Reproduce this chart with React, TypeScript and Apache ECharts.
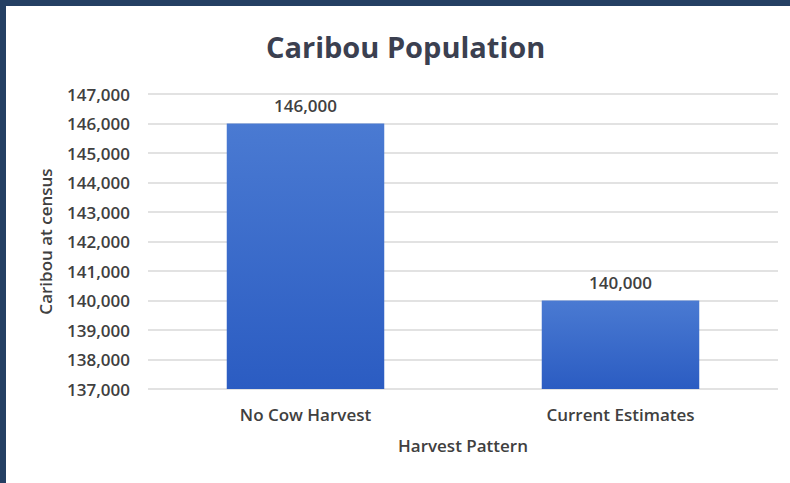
import React, { useEffect, useRef } from "react";
import * as echarts from "echarts";

const categories: string[] = ["No Cow Harvest", "Current Estimates"];
const population: number[] = [146000, 140000];
const titleText = "Caribou Population";
const yAxisName = "Caribou at census";
const xAxisName = "Harvest Pattern";

const FONT = "'Open Sans', sans-serif";
const fmt = (v: number) => v.toLocaleString("en-US");

export default function App() {
  const ref = useRef<HTMLDivElement>(null);
  useEffect(() => {
    if (!ref.current) return;
    const chart = echarts.init(ref.current, undefined, { renderer: "svg" });
    chart.setOption({
      animation: false,
      backgroundColor: "#ffffff",
      textStyle: { fontFamily: FONT },
      title: {
        text: titleText,
        left: 261,
        top: 27,
        textStyle: { fontFamily: FONT, fontSize: 29, fontWeight: "bold", color: "#3b4050" },
      },
      graphic: [
        { type: "rect", shape: { x: 0, y: 0, width: 790, height: 6 }, style: { fill: "#243f63" } },
        { type: "rect", shape: { x: 0, y: 0, width: 6, height: 483 }, style: { fill: "#243f63" } },
      ],
      grid: { left: 148, right: 12, top: 94, bottom: 94 },
      xAxis: {
        type: "category",
        data: categories,
        axisLine: { show: false },
        axisTick: { show: false },
        axisLabel: { margin: 17, fontFamily: FONT, fontSize: 17, fontWeight: 600, color: "#404040" },
        name: xAxisName,
        nameLocation: "middle",
        nameGap: 48,
        nameTextStyle: { fontFamily: FONT, fontSize: 17, fontWeight: 600, color: "#404040" },
      },
      yAxis: {
        type: "value",
        min: 137000,
        max: 147000,
        interval: 1000,
        axisLine: { show: false },
        axisTick: { show: false },
        splitLine: { lineStyle: { color: "#d9d9d9", width: 1.5 } },
        axisLabel: {
          margin: 18,
          fontFamily: FONT,
          fontSize: 17,
          fontWeight: 600,
          color: "#404040",
          formatter: (v: number) => fmt(v),
        },
        name: yAxisName,
        nameLocation: "middle",
        nameGap: 94,
        nameTextStyle: { fontFamily: FONT, fontSize: 17, fontWeight: 600, color: "#404040" },
      },
      series: [
        {
          type: "bar",
          data: population,
          barWidth: "50%",
          itemStyle: {
            color: new echarts.graphic.LinearGradient(0, 0, 0, 1, [
              { offset: 0, color: "#4a7ad2" },
              { offset: 1, color: "#2b5cc2" },
            ]),
          },
          label: {
            show: true,
            position: "top",
            distance: 10,
            fontFamily: FONT,
            fontSize: 17,
            fontWeight: 600,
            color: "#404040",
            formatter: (p: any) => fmt(p.value),
          },
        },
      ],
    });
    return () => chart.dispose();
  }, []);
  return (
    <div
      ref={ref}
      style={{ position: "fixed", left: 0, top: 0, width: 790, height: 483 }}
    />
  );
}
